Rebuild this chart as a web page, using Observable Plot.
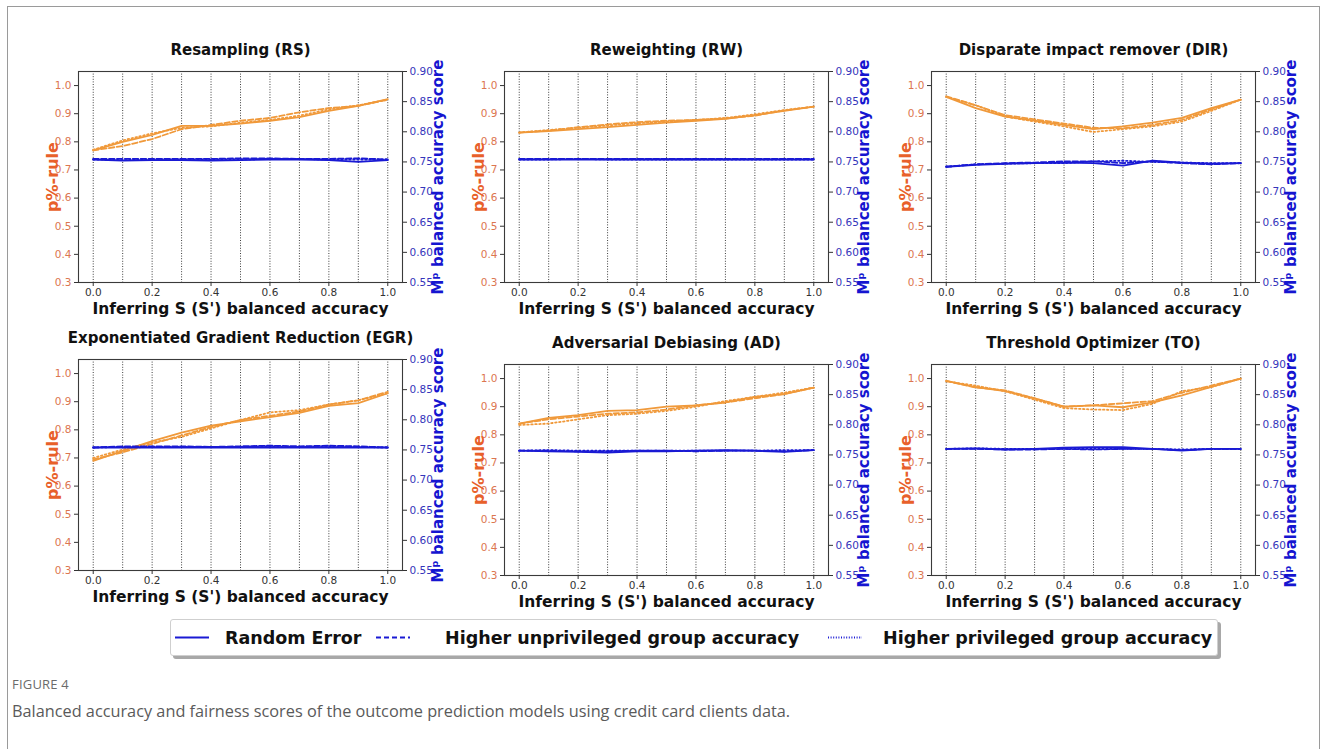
<!DOCTYPE html>
<html>
<head>
<meta charset="utf-8">
<script src="https://cdn.jsdelivr.net/npm/d3@7"></script>
<script src="https://cdn.jsdelivr.net/npm/@observablehq/plot@0.6"></script>
<style>
  html, body { margin: 0; padding: 0; background: #fff; }
  #fig { position: relative; width: 1328px; height: 749px; overflow: hidden; font-family: "DejaVu Sans", sans-serif; }
  #border { position: absolute; left: 7px; top: 6px; width: 1313px; height: 760px; border: 1.5px solid #9a9a9a; box-sizing: border-box; }
  .panel { position: absolute; width: 420px; height: 296px; }
  .panel svg { position: absolute; left: 0; top: 0; overflow: visible; }
  #legend { position: absolute; left: 170px; top: 619px; width: 1048px; height: 37px; background: #fff; border: 1px solid #cfcfcf; border-radius: 3px; box-shadow: 3px 3px 0 #a8a8a8; box-sizing: border-box; }
  #legend .item { position: absolute; top: 0; height: 35px; display: flex; align-items: center; font-family: "DejaVu Sans", sans-serif; font-weight: bold; font-size: 17.5px; color: #111; white-space: nowrap; }
  #legend svg { display: block; }
  #caplabel { position: absolute; left: 12px; top: 675px; font-family: "Open Sans", "Noto Sans", sans-serif; font-size: 13px; color: #6b6b6b; letter-spacing: 0.2px; }
  #captext { position: absolute; left: 12px; top: 700px; font-family: "Open Sans", "Noto Sans", sans-serif; font-size: 16.3px; color: #5a5a5a; }
</style>
</head>
<body>
<div id="fig">
  <div id="border"></div>
  <div id="legend"></div>
  <div id="caplabel">FIGURE 4</div>
  <div id="captext">Balanced accuracy and fairness scores of the outcome prediction models using credit card clients data.</div>
</div>
<script>
// ---------------- DATA ----------------
const xs = [0, 0.1, 0.2, 0.3, 0.4, 0.5, 0.6, 0.7, 0.8, 0.9, 1.0];
const xTicks = [0, 0.2, 0.4, 0.6, 0.8, 1.0];
const xGrid = [0, 0.1, 0.2, 0.3, 0.4, 0.5, 0.6, 0.7, 0.8, 0.9, 1.0];
const leftTicks = [0.3, 0.4, 0.5, 0.6, 0.7, 0.8, 0.9, 1.0];
const rightTicks = [0.55, 0.60, 0.65, 0.70, 0.75, 0.80, 0.85, 0.90];
const panelTitles = ["Resampling (RS)", "Reweighting (RW)", "Disparate impact remover (DIR)",
  "Exponentiated Gradient Reduction (EGR)", "Adversarial Debiasing (AD)", "Threshold Optimizer (TO)"];
const seriesNames = ["Random Error", "Higher unprivileged group accuracy", "Higher privileged group accuracy"];
const xLabel = "Inferring S (S') balanced accuracy";
const leftLabel = "p%-rule";
const rightLabel = "Mᵖ balanced accuracy score";

// p%-rule (left axis) — solid = Random Error, dashed = Higher unprivileged, dotted = Higher privileged
const RS_p_random  = [0.770, 0.800, 0.825, 0.857, 0.857, 0.865, 0.875, 0.888, 0.910, 0.928, 0.952];
const RS_p_unpriv  = [0.770, 0.785, 0.810, 0.845, 0.860, 0.875, 0.885, 0.905, 0.920, 0.928, 0.950];
const RS_p_priv    = [0.772, 0.805, 0.830, 0.850, 0.855, 0.868, 0.878, 0.893, 0.915, 0.930, 0.950];
const RS_b_random  = [0.754, 0.752, 0.753, 0.753, 0.752, 0.753, 0.754, 0.754, 0.753, 0.750, 0.753];
const RS_b_unpriv  = [0.755, 0.755, 0.755, 0.755, 0.755, 0.756, 0.756, 0.755, 0.755, 0.756, 0.754];
const RS_b_priv    = [0.754, 0.753, 0.754, 0.754, 0.754, 0.754, 0.755, 0.755, 0.754, 0.754, 0.754];

const RW_p_random  = [0.833, 0.838, 0.845, 0.852, 0.860, 0.868, 0.875, 0.882, 0.895, 0.910, 0.925];
const RW_p_unpriv  = [0.833, 0.840, 0.852, 0.862, 0.870, 0.875, 0.878, 0.883, 0.893, 0.912, 0.925];
const RW_p_priv    = [0.833, 0.842, 0.850, 0.858, 0.866, 0.872, 0.878, 0.885, 0.898, 0.913, 0.925];
const RW_b_random  = [0.754, 0.754, 0.754, 0.754, 0.754, 0.754, 0.754, 0.754, 0.754, 0.754, 0.754];
const RW_b_unpriv  = [0.755, 0.755, 0.755, 0.755, 0.755, 0.755, 0.755, 0.755, 0.755, 0.755, 0.755];
const RW_b_priv    = [0.754, 0.754, 0.755, 0.754, 0.754, 0.754, 0.754, 0.754, 0.754, 0.754, 0.754];

const DIR_p_random = [0.960, 0.920, 0.890, 0.875, 0.860, 0.845, 0.855, 0.868, 0.885, 0.920, 0.950];
const DIR_p_unpriv = [0.962, 0.930, 0.895, 0.880, 0.865, 0.850, 0.848, 0.860, 0.878, 0.915, 0.950];
const DIR_p_priv   = [0.960, 0.930, 0.890, 0.872, 0.855, 0.835, 0.845, 0.855, 0.872, 0.910, 0.950];
const DIR_b_random = [0.742, 0.745, 0.747, 0.748, 0.749, 0.748, 0.744, 0.752, 0.749, 0.747, 0.748];
const DIR_b_unpriv = [0.742, 0.746, 0.748, 0.749, 0.751, 0.751, 0.748, 0.751, 0.748, 0.746, 0.748];
const DIR_b_priv   = [0.742, 0.746, 0.747, 0.748, 0.748, 0.751, 0.752, 0.750, 0.749, 0.748, 0.748];

const EGR_p_random = [0.690, 0.725, 0.760, 0.790, 0.815, 0.830, 0.845, 0.860, 0.885, 0.895, 0.930];
const EGR_p_unpriv = [0.695, 0.720, 0.750, 0.780, 0.810, 0.835, 0.850, 0.865, 0.890, 0.905, 0.935];
const EGR_p_priv   = [0.700, 0.730, 0.755, 0.775, 0.805, 0.835, 0.862, 0.870, 0.890, 0.905, 0.930];
const EGR_b_random = [0.754, 0.754, 0.754, 0.754, 0.754, 0.754, 0.754, 0.754, 0.754, 0.754, 0.754];
const EGR_b_unpriv = [0.754, 0.756, 0.756, 0.756, 0.755, 0.756, 0.757, 0.756, 0.757, 0.756, 0.754];
const EGR_b_priv   = [0.754, 0.755, 0.755, 0.755, 0.755, 0.755, 0.756, 0.755, 0.756, 0.755, 0.754];

const AD_p_random  = [0.840, 0.860, 0.870, 0.885, 0.888, 0.900, 0.905, 0.915, 0.935, 0.945, 0.968];
const AD_p_unpriv  = [0.840, 0.855, 0.865, 0.875, 0.880, 0.890, 0.905, 0.915, 0.930, 0.945, 0.968];
const AD_p_priv    = [0.835, 0.840, 0.855, 0.870, 0.875, 0.885, 0.900, 0.920, 0.935, 0.950, 0.968];
const AD_b_random  = [0.757, 0.756, 0.755, 0.754, 0.756, 0.756, 0.757, 0.758, 0.757, 0.755, 0.758];
const AD_b_unpriv  = [0.757, 0.757, 0.756, 0.756, 0.757, 0.757, 0.756, 0.757, 0.757, 0.756, 0.758];
const AD_b_priv    = [0.757, 0.758, 0.757, 0.757, 0.757, 0.757, 0.757, 0.757, 0.757, 0.758, 0.758];

const TO_p_random  = [0.992, 0.970, 0.955, 0.930, 0.900, 0.905, 0.898, 0.915, 0.940, 0.970, 1.000];
const TO_p_unpriv  = [0.992, 0.968, 0.958, 0.930, 0.900, 0.905, 0.912, 0.920, 0.950, 0.975, 1.000];
const TO_p_priv    = [0.990, 0.975, 0.955, 0.925, 0.895, 0.890, 0.888, 0.910, 0.955, 0.970, 1.000];
const TO_b_random  = [0.760, 0.761, 0.759, 0.760, 0.762, 0.763, 0.763, 0.760, 0.757, 0.760, 0.760];
const TO_b_unpriv  = [0.760, 0.760, 0.759, 0.759, 0.760, 0.759, 0.760, 0.760, 0.758, 0.760, 0.760];
const TO_b_priv    = [0.760, 0.761, 0.760, 0.760, 0.760, 0.760, 0.760, 0.760, 0.759, 0.760, 0.760];

// ---------------- STYLE ----------------
const ORANGE_LINE = "#f0993a";
const BLUE_LINE = "#1a1ad4";
const LEFT_LABEL_C = "#e8602a";
const LEFT_TICK_C = "#dc7650";
const RIGHT_LABEL_C = "#1515d0";
const RIGHT_TICK_C = "#3535bb";
const DASHES = [null, "5.5,2.4", "1.5,2.5"];

const panels = [
  {title: panelTitles[0], p: [RS_p_random, RS_p_unpriv, RS_p_priv], b: [RS_b_random, RS_b_unpriv, RS_b_priv], left: 30, top: 31},
  {title: panelTitles[1], p: [RW_p_random, RW_p_unpriv, RW_p_priv], b: [RW_b_random, RW_b_unpriv, RW_b_priv], left: 456, top: 31},
  {title: panelTitles[2], p: [DIR_p_random, DIR_p_unpriv, DIR_p_priv], b: [DIR_b_random, DIR_b_unpriv, DIR_b_priv], left: 883, top: 31},
  {title: panelTitles[3], p: [EGR_p_random, EGR_p_unpriv, EGR_p_priv], b: [EGR_b_random, EGR_b_unpriv, EGR_b_priv], left: 30, top: 319},
  {title: panelTitles[4], p: [AD_p_random, AD_p_unpriv, AD_p_priv], b: [AD_b_random, AD_b_unpriv, AD_b_priv], left: 456, top: 324},
  {title: panelTitles[5], p: [TO_p_random, TO_p_unpriv, TO_p_priv], b: [TO_b_random, TO_b_unpriv, TO_b_priv], left: 883, top: 324}
];

const W = 420, H = 296, ML = 48, MR = 48, MT = 40, MB = 45;
const common = {
  width: W, height: H, marginLeft: ML, marginRight: MR, marginTop: MT, marginBottom: MB,
  style: {fontFamily: "DejaVu Sans, sans-serif", fontSize: "10.5px", background: "transparent", overflow: "visible"}
};
const fmt1 = d3.format(".1f"), fmt2 = d3.format(".2f");

const fig = document.getElementById("fig");
for (const pn of panels) {
  const div = document.createElement("div");
  div.className = "panel";
  div.style.left = pn.left + "px";
  div.style.top = pn.top + "px";

  const pData = pn.p.map(arr => xs.map((x, i) => ({x, v: arr[i]})));
  const bData = pn.b.map(arr => xs.map((x, i) => ({x, v: arr[i]})));

  const left = Plot.plot({
    ...common,
    x: {domain: [-0.05, 1.05]},
    y: {domain: [0.3, 1.05]},
    marks: [
      Plot.ruleX(xGrid, {x: d => d, stroke: "#000", strokeWidth: 0.9, strokeDasharray: "1,1.6", strokeOpacity: 0.85}),
      ...pData.map((d, k) => Plot.line(d, {x: "x", y: "v", stroke: ORANGE_LINE, strokeWidth: 1.8, strokeDasharray: DASHES[k]})),
      Plot.frame({stroke: "#3a3a3a", strokeWidth: 1.1}),
      Plot.axisX({ticks: xTicks, tickFormat: fmt1, tickSize: 4, tickPadding: 2, stroke: "#333", fill: "#333", label: null, fontSize: 10.5}),
      Plot.axisY({anchor: "left", ticks: leftTicks, tickFormat: fmt1, tickSize: 4, tickPadding: 3, stroke: "#333", fill: LEFT_TICK_C, label: null, fontSize: 10.5}),
      Plot.text([pn.title], {text: d => d, frameAnchor: "top", dy: -21, fontSize: 15, fontWeight: "bold", fill: "#111", lineAnchor: "middle"}),
      Plot.text([xLabel], {text: d => d, frameAnchor: "bottom", dy: 27, fontSize: 15.5, fontWeight: "bold", fill: "#111", lineAnchor: "middle"}),
      Plot.text([leftLabel], {text: d => d, frameAnchor: "left", dx: -26, rotate: -90, textAnchor: "middle", fontSize: 16, fontWeight: "bold", fill: LEFT_LABEL_C, lineAnchor: "middle"})
    ]
  });

  const right = Plot.plot({
    ...common,
    x: {domain: [-0.05, 1.05], axis: null},
    y: {domain: [0.55, 0.90], axis: null},
    marks: [
      ...bData.map((d, k) => Plot.line(d, {x: "x", y: "v", stroke: BLUE_LINE, strokeWidth: 1.8, strokeDasharray: DASHES[k]})),
      Plot.axisY({anchor: "right", ticks: rightTicks, tickFormat: fmt2, tickSize: 4, tickPadding: 3, stroke: "#333", fill: RIGHT_TICK_C, label: null, fontSize: 10.5}),
      Plot.text([rightLabel], {text: d => d, frameAnchor: "right", dx: 36, rotate: -90, textAnchor: "middle", fontSize: 15, fontWeight: "bold", fill: RIGHT_LABEL_C, lineAnchor: "middle"})
    ]
  });

  div.appendChild(left);
  div.appendChild(right);
  fig.appendChild(div);
}

// ---------------- LEGEND ----------------
const legend = document.getElementById("legend");
const legendPos = [{sx: 4, tx: 54}, {sx: 205, tx: 274}, {sx: 657, tx: 712}];
seriesNames.forEach((name, k) => {
  const sw = document.createElementNS("http://www.w3.org/2000/svg", "svg");
  sw.setAttribute("width", 36); sw.setAttribute("height", 35);
  sw.style.position = "absolute"; sw.style.left = legendPos[k].sx + "px"; sw.style.top = "0px";
  const ln = document.createElementNS("http://www.w3.org/2000/svg", "line");
  ln.setAttribute("x1", 0); ln.setAttribute("x2", 34); ln.setAttribute("y1", 17.5); ln.setAttribute("y2", 17.5);
  ln.setAttribute("stroke", BLUE_LINE); ln.setAttribute("stroke-width", 2);
  if (k === 1) ln.setAttribute("stroke-dasharray", "5,3");
  if (k === 2) ln.setAttribute("stroke-dasharray", "1,1.6");
  sw.appendChild(ln);
  legend.appendChild(sw);
  const t = document.createElement("div");
  t.className = "item";
  t.style.left = legendPos[k].tx + "px";
  t.textContent = name;
  legend.appendChild(t);
});
</script>
</body>
</html>
